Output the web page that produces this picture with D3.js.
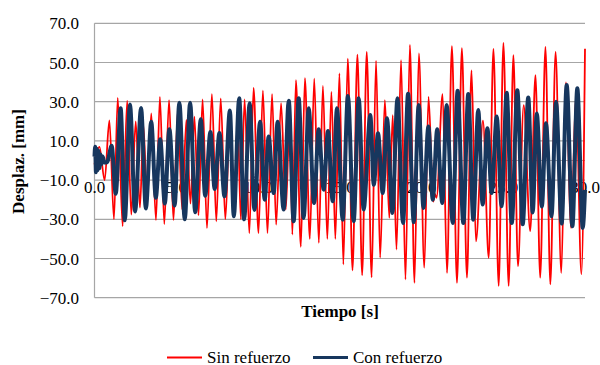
<!DOCTYPE html>
<html>
<head>
<meta charset="utf-8">
<script src="https://cdn.jsdelivr.net/npm/d3@7"></script>
<style>
  html, body { margin: 0; padding: 0; background: #fff; }
  svg { display: block; }
</style>
</head>
<body>
<svg id="chart" width="600" height="365"></svg>
<script>
// Time-history turning points (s, mm): "Sin refuerzo"
const sinT = [0.0, 0.30, 0.62, 0.91, 1.19, 1.42, 1.72, 2.00, 2.25, 2.52, 2.78, 2.99, 3.22, 3.47, 3.76, 4.00, 4.27, 4.56, 4.83, 5.10,
  5.36, 5.62, 5.87, 6.11, 6.36, 6.61, 6.88, 7.18, 7.45, 7.72, 8.00, 8.30, 8.55, 8.75, 8.95, 9.18, 9.47, 9.73, 10.03, 10.30,
  10.58, 10.86, 11.11, 11.41, 11.70, 11.95, 12.10, 12.32, 12.62, 12.87, 13.17, 13.44, 13.72, 13.97, 14.24, 14.49, 14.73, 14.98, 15.22, 15.49,
  15.78, 16.08, 16.37, 16.65, 16.95, 17.22, 17.47, 17.76, 18.03, 18.24, 18.47, 18.75, 19.02, 19.29, 19.57, 19.84, 20.17, 20.43, 20.72, 20.82,
  20.92, 21.29, 21.56, 21.86, 22.17, 22.47, 22.78, 23.06, 23.33, 23.76, 24.11, 24.40, 24.72, 25.01, 25.33, 25.62, 25.90, 26.25, 26.65, 26.97,
  27.26, 27.58, 27.88, 28.20, 28.55, 28.83, 29.15, 29.45, 29.78, 30.00];
const sinV = [-2, 7, -10, 20.5, -30, 32, -33.5, 30.5, -27.6, 20, -24, 18, -22, 24, -30.4, 32.5, -32.4, 30.8, -30.4, 26,
  -25, 20.7, -22, 22.4, -28, 31.2, -34.4, 33.9, -31, 31.7, -30, 24, -28, 22, -30, 31.2, -37, 37.1, -37, 35.6,
  -37, 33.9, -32.7, 29.2, -25, 25, -37.8, 41, -44, 42, -40, 41.7, -42, 38, -40, 35, -40, 44.4, -53, 52,
  -56, 54, -58.5, 55.4, -59.6, 51, -49.6, 30.8, -29.3, 23.2, -45.4, 51.2, -60.7, 59, -62.4, 54.6, -54.7, 32.5, -21, -17,
  -19, 33.9, -57.3, 58.3, -62.4, 57.3, -59.8, 46, -41.2, 20.3, -49.7, 57, -64, 60, -64, 53.7, -54, 28.3, -36, 43.6,
  -59.8, 58, -63.2, 55.4, -57.3, 39.8, -34.4, 33, -58, 57];

// Time-history turning points (s, mm): "Con refuerzo"
const conT = [0.0, 0.04, 0.09, 0.14, 0.19, 0.24, 0.30, 0.36, 0.42, 0.50, 0.60, 0.76, 1.05, 1.30, 1.60, 1.85, 2.17, 2.48, 2.85, 3.14,
  3.47, 3.75, 4.02, 4.30, 4.58, 4.90, 5.19, 5.52, 5.85, 6.16, 6.50, 6.77, 7.09, 7.35, 7.64, 7.95, 8.28, 8.52, 8.85, 9.15,
  9.49, 9.78, 10.13, 10.41, 10.65, 10.96, 11.20, 11.57, 11.88, 12.18, 12.49, 12.79, 13.10, 13.43, 13.71, 14.02, 14.28, 14.57, 14.83, 15.18,
  15.50, 15.85, 16.16, 16.46, 16.87, 17.08, 17.34, 17.63, 17.89, 18.22, 18.53, 18.87, 19.18, 19.53, 19.83, 20.12, 20.42, 20.69, 20.96, 21.27,
  21.54, 21.91, 22.21, 22.56, 22.86, 23.17, 23.47, 23.74, 24.03, 24.29, 24.60, 24.90, 25.21, 25.52, 25.86, 26.19, 26.53, 26.80, 27.05, 27.36,
  27.61, 27.95, 28.23, 28.57, 28.88, 29.23, 29.53, 29.86, 30.00];
const conV = [2, 7, -6, 6, -5, 5, -4, 3, -2, 2, -1, -1, 7.5, -17, 26.6, -30.5, 28.6, -26, 26.8, -24.5,
  19.8, -19, 10.8, -22, 16, -23, 29.5, -30, 29.5, -26.4, 21, -18, 14.5, -14.5, 14, -18.3, 25.5, -28.5, 31.7, -30,
  29.2, -25.2, 19.8, -20, 12.2, -16.6, 19.8, -25, 30.5, -31, 31.7, -29.3, 26.6, -21.7, 15.9, -14.9, 15.1, -20.8, 26.6, -30.2,
  32.9, -31, 31.7, -25, 23.2, -12.4, 13.9, -16.6, 21.5, -26.8, 31.7, -31.9, 34, -31.5, 28.3, -24.2, 17.3, -20, 16, -21.7,
  28.3, -31.9, 35.6, -31.9, 33.9, -30.2, 25.8, -22.5, 16.4, -16.6, 22.4, -23.4, 34.6, -31.9, 35.9, -32.5, 32.2, -26.5, 24, -23.5,
  19, -28.5, 30, -32.2, 38.5, -33.5, 36.8, -34.4, -15];

const yTicks = [70, 50, 30, 10, -10, -30, -50, -70];
const xTicks = [0, 5, 10, 15, 20, 25, 30];
const seriesNames = ["Sin refuerzo", "Con refuerzo"];
const seriesColors = ["#ff0000", "#17375e"];

const serif = "'Liberation Serif', 'Times New Roman', 'DejaVu Serif', serif";

const svg = d3.select("#chart");
svg.append("rect").attr("width", 600).attr("height", 365).attr("fill", "#fff");

const plotLeft = 94.5, plotRight = 585, plotTop = 23.3, plotBottom = 297.7;
const x = d3.scaleLinear().domain([0, 30]).range([plotLeft, plotRight]);
const y = d3.scaleLinear().domain([-70, 70]).range([plotBottom, plotTop]);

// horizontal gridlines
svg.append("g").selectAll("line").data(yTicks).join("line")
  .attr("x1", plotLeft).attr("x2", plotRight)
  .attr("y1", d => y(d)).attr("y2", d => y(d))
  .attr("stroke", "#a6a6a6").attr("stroke-width", 1.2);

// category axis line through zero, and value axis line
svg.append("line").attr("x1", plotLeft).attr("x2", plotRight).attr("y1", y(0)).attr("y2", y(0))
  .attr("stroke", "#a6a6a6").attr("stroke-width", 1.2);
svg.append("line").attr("x1", plotLeft).attr("x2", plotLeft).attr("y1", plotTop).attr("y2", plotBottom)
  .attr("stroke", "#a6a6a6").attr("stroke-width", 1.2);

// y tick labels
svg.append("g").selectAll("text").data(yTicks).join("text")
  .attr("x", 79).attr("y", d => y(d) + 6)
  .attr("text-anchor", "end").attr("font-size", 17).attr("font-family", serif).attr("fill", "#000")
  .text(d => d3.format(".1f")(d));

// x tick labels
svg.append("g").selectAll("text").data(xTicks).join("text")
  .attr("x", d => x(d)).attr("y", 192.5)
  .attr("text-anchor", "middle").attr("font-size", 17).attr("font-family", serif).attr("fill", "#000")
  .text(d => d3.format(".1f")(d));

// axis titles
svg.append("text").attr("x", 340).attr("y", 317)
  .attr("text-anchor", "middle").attr("font-size", 17).attr("font-weight", "bold").attr("font-family", serif)
  .text("Tiempo [s]");
svg.append("text").attr("transform", "translate(24,161.5) rotate(-90)")
  .attr("text-anchor", "middle").attr("font-size", 17).attr("font-weight", "bold").attr("font-family", serif)
  .text("Desplaz. [mm]");

// series
const line = d3.line().x(d => x(d[0])).y(d => y(d[1])).curve(d3.curveMonotoneX);
const sinPts = sinT.map((t, i) => [t, sinV[i]]);
const conPts = conT.map((t, i) => [t, conV[i]]);

svg.append("path").datum(sinPts).attr("d", line)
  .attr("fill", "none").attr("stroke", seriesColors[0]).attr("stroke-width", 1.8)
  .attr("stroke-linejoin", "round");
svg.append("path").datum(conPts).attr("d", line)
  .attr("fill", "none").attr("stroke", seriesColors[1]).attr("stroke-width", 4)
  .attr("stroke-linejoin", "round");

// legend
const legend = [
  { name: seriesNames[0], color: seriesColors[0], w: 2, x0: 167 },
  { name: seriesNames[1], color: seriesColors[1], w: 3, x0: 313 }
];
const lg = svg.append("g");
legend.forEach(d => {
  lg.append("line").attr("x1", d.x0).attr("x2", d.x0 + 35).attr("y1", 357.5).attr("y2", 357.5)
    .attr("stroke", d.color).attr("stroke-width", d.w);
  lg.append("text").attr("x", d.x0 + 40).attr("y", 362.5).attr("font-size", 17).attr("font-family", serif)
    .attr("fill", "#000").text(d.name);
});
</script>
</body>
</html>
